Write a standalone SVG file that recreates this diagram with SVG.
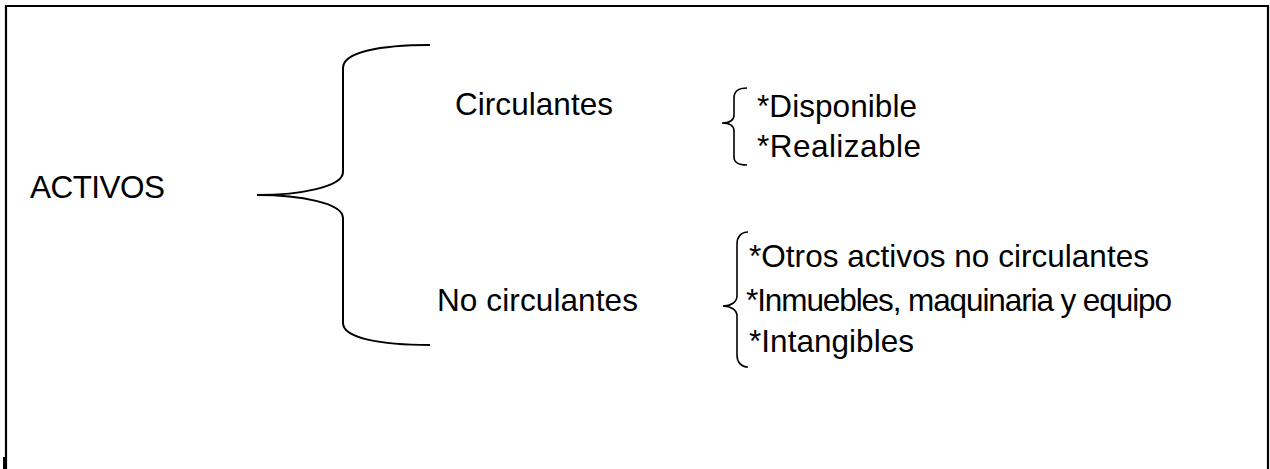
<svg xmlns="http://www.w3.org/2000/svg" width="1270" height="469" viewBox="0 0 1270 469">
<style>
.t{font-family:"Liberation Sans",Arial,sans-serif;font-size:31.5px;fill:#000}
.br{fill:none;stroke:#000;stroke-width:2}
.sb{fill:none;stroke:#000;stroke-width:1.6}
</style>
<rect width="1270" height="469" fill="#fff"/>
<g id="frame">
<path d="M6,469 L6,6 L1268,6 L1268,469" fill="none" stroke="#000" stroke-width="2.2"/>
<rect x="3" y="457" width="4" height="12" fill="#000"/>
</g>
<g id="connectors">
<path class="br" d="M430,45 C380,45 343,52 343,68 L343,172 C343,187 300,195 257,195 C300,195 343,203 343,218 L343,323 C343,338 380,345 430,345"/>
<path class="sb" d="M747,88 C738,88 734,92 734,98 L734,115 C734,120 730,123 722,123 C730,123 734,126 734,131 L734,157 C734,162 738,165 747,165"/>
<path class="sb" d="M748,232 C741,232 737,237 737,244 L737,296 C737,302 731,306 723,306 C731,306 737,310 737,316 L737,355 C737,362 741,367 748,367"/>
</g>
<g id="activos"><text class="t" x="30" y="198" textLength="135" lengthAdjust="spacing">ACTIVOS</text></g>
<g id="circulantes"><text class="t" x="455" y="115" textLength="158" lengthAdjust="spacing">Circulantes</text></g>
<g id="no-circulantes"><text class="t" x="437" y="311" textLength="201" lengthAdjust="spacing">No circulantes</text></g>
<g id="disponible"><text class="t" x="757" y="117" textLength="160" lengthAdjust="spacing">*Disponible</text></g>
<g id="realizable"><text class="t" x="757" y="157" textLength="164" lengthAdjust="spacing">*Realizable</text></g>
<g id="otros"><text class="t" x="749" y="267" textLength="400" lengthAdjust="spacing">*Otros activos no circulantes</text></g>
<g id="inmuebles"><text class="t" x="746" y="311" textLength="426" lengthAdjust="spacing">*Inmuebles, maquinaria y equipo</text></g>
<g id="intangibles"><text class="t" x="749" y="352" textLength="165" lengthAdjust="spacing">*Intangibles</text></g>
</svg>
